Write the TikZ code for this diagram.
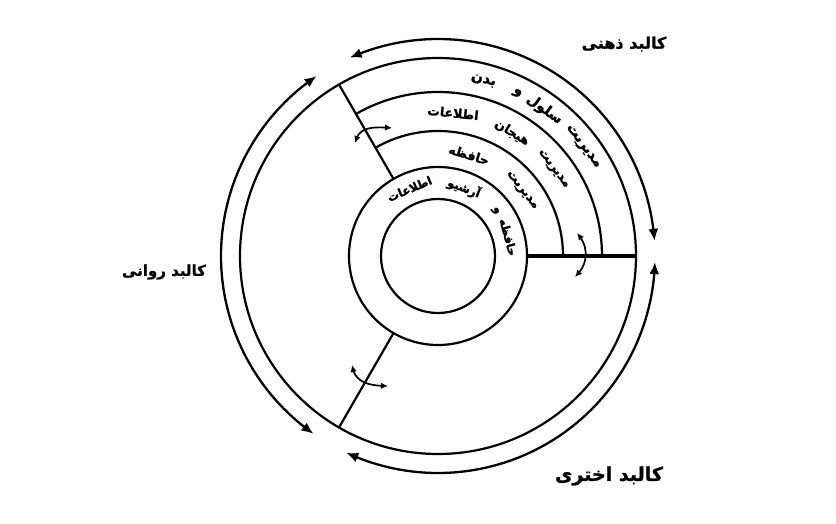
\documentclass[tikz,border=0pt]{standalone}
\usepackage{fontspec}
\usetikzlibrary{arrows.meta,bending}
\TeXXeTstate=1
\newfontfamily\pfont[Script=Arabic, BoldFeatures={FakeBold=1.2}]{DejaVu Sans}
\tikzset{
  ring/.style={line width=2.2pt},
  divider/.style={line width=2.2pt},
  thickdivider/.style={line width=4.5pt},
  bodyarrow/.style={line width=2.3pt,
    {Latex[length=12pt,width=10pt,bend]}-{Latex[length=12pt,width=10pt,bend]}},
  smallarrow/.style={line width=1.7pt,
    {Latex[length=7pt,width=6.5pt]}-{Latex[length=7pt,width=6.5pt]}},
  wordA/.style={font=\pfont\bfseries\fontsize{14}{14}\selectfont, inner sep=0pt},
  wordB/.style={font=\pfont\bfseries\fontsize{12.5}{12.5}\selectfont, inner sep=0pt},
  wordC/.style={font=\pfont\bfseries\fontsize{12.5}{12.5}\selectfont, inner sep=0pt},
  wordD/.style={font=\pfont\bfseries\fontsize{11.5}{11.5}\selectfont, inner sep=0pt},
  bodylabel/.style={font=\pfont\bfseries, inner sep=0pt}
}
\begin{document}
\begin{tikzpicture}[x=1pt,y=1pt]
\useasboundingbox (-438,-267) rectangle (398,256);
\fill[white] (-438,-267) rectangle (398,256);
% rings
\coordinate (c) at (0,0);
\draw[ring] (c) circle (57);
\draw[ring] (c) circle (89);
\draw[ring] (c) circle (198);
\draw[ring] (0:125) arc (0:120:125);
\draw[ring] (0:164) arc (0:120:164);
% dividers
\coordinate (d0a) at (0:89);   \coordinate (d0b) at (0:198);
\coordinate (d1a) at (120:89); \coordinate (d1b) at (120:198);
\coordinate (d2a) at (240:89); \coordinate (d2b) at (240:198);
\draw[thickdivider] (d0a) -- (d0b);
\draw[divider] (d1a) -- (d1b);
\draw[divider] (d2a) -- (d2b);
% outer double arrows
\draw[bodyarrow] (4:217) arc (4:114:217);
\draw[bodyarrow] (124:217) arc (124:235:217);
\draw[bodyarrow] (245:217) arc (245:358.4:217);
% small curved arrows
\coordinate (s1a) at (-83,113); \coordinate (s1b) at (-46,128);
\draw[smallarrow] (s1a) .. controls (-80,128) and (-68,130) .. (s1b);
\coordinate (s2a) at (139,23); \coordinate (s2b) at (137,-21);
\draw[smallarrow] (s2a) .. controls (151,10) and (151,-8) .. (s2b);
\coordinate (s3a) at (-86,-109); \coordinate (s3b) at (-50,-130);
\draw[smallarrow] (s3a) .. controls (-84,-126) and (-70,-130) .. (s3b);
% ring 4 words
\node[wordA, rotate=37-90]   (r4w1) at (37:181)   {\beginR مدیریت\endR};
\node[wordA, rotate=54-90]   (r4w2) at (54:181)   {\beginR سلول\endR};
\node[wordA, rotate=64-90]   (r4w3) at (64:181)   {\beginR و\endR};
\node[wordA, rotate=75.5-90] (r4w4) at (75.5:181) {\beginR بدن\endR};
% ring 3 words
\node[wordB, rotate=37-90] (r3w1) at (37:144) {\beginR مدیریت\endR};
\node[wordB, rotate=59-90] (r3w2) at (59:144) {\beginR هیجان\endR};
\node[wordB, rotate=84-90] (r3w3) at (84:144) {\beginR اطلاعات\endR};
% ring 2 words
\node[wordC, rotate=38-90] (r2w1) at (38:106) {\beginR مدیریت\endR};
\node[wordC, rotate=73-90] (r2w2) at (73:106) {\beginR حافظه\endR};
% ring 1 words
\node[wordD, rotate=15-90]  (r1w1) at (15:73)  {\beginR حافظه\endR};
\node[wordD, rotate=38-90]  (r1w2) at (38:73)  {\beginR و\endR};
\node[wordD, rotate=69-90]  (r1w3) at (69:73)  {\beginR آرشیو\endR};
\node[wordD, rotate=113-90] (r1w4) at (113:73) {\beginR اطلاعات\endR};
% body labels
\node[bodylabel, font=\pfont\bfseries\fontsize{16}{16}\selectfont] (mental) at (186,212)  {\beginR کالبد ذهنی\endR};
\node[bodylabel, font=\pfont\bfseries\fontsize{15}{15}\selectfont] (psych)  at (-274,-16) {\beginR کالبد روانی\endR};
\node[bodylabel, font=\pfont\bfseries\fontsize{19}{19}\selectfont] (astral) at (171,-220) {\beginR کالبد اختری\endR};
\end{tikzpicture}
\end{document}
